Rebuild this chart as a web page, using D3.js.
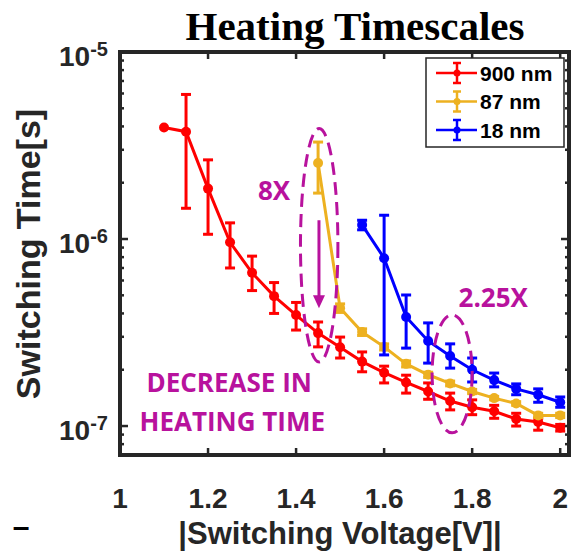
<!DOCTYPE html>
<html>
<head>
<meta charset="utf-8">
<script src="https://cdn.jsdelivr.net/npm/d3@7/dist/d3.min.js"></script>
<style>
  body { margin: 0; background: #fff; }
  svg { display: block; }
</style>
</head>
<body>
<svg id="chart" width="573" height="551"></svg>
<script>
// Heating timescales: switching time vs |switching voltage| for three device sizes

// 900 nm
const redV  = [1.1, 1.15, 1.2, 1.25, 1.3, 1.35, 1.4, 1.45, 1.5, 1.55, 1.6, 1.65, 1.7, 1.75, 1.8, 1.85, 1.9, 1.95, 2.0];
const redT  = [3.95e-6, 3.75e-6, 1.86e-6, 9.6e-7, 6.6e-7, 4.95e-7, 3.92e-7, 3.14e-7, 2.64e-7, 2.21e-7, 1.93e-7, 1.71e-7, 1.53e-7, 1.36e-7, 1.26e-7, 1.2e-7, 1.09e-7, 1.05e-7, 9.8e-8];
const redLo = [3.95e-6, 1.46e-6, 1.06e-6, 7.0e-7, 5.3e-7, 4.0e-7, 3.26e-7, 2.65e-7, 2.31e-7, 1.95e-7, 1.7e-7, 1.5e-7, 1.39e-7, 1.22e-7, 1.15e-7, 1.1e-7, 1.0e-7, 9.5e-8, 9.4e-8];
const redHi = [3.95e-6, 5.93e-6, 2.65e-6, 1.22e-6, 8.1e-7, 5.85e-7, 4.58e-7, 3.6e-7, 2.99e-7, 2.49e-7, 2.09e-7, 1.87e-7, 1.7e-7, 1.5e-7, 1.38e-7, 1.29e-7, 1.17e-7, 1.1e-7, 1.02e-7];

// 87 nm
const yelV  = [1.45, 1.5, 1.55, 1.6, 1.65, 1.7, 1.75, 1.8, 1.85, 1.9, 1.95, 2.0];
const yelT  = [2.55e-6, 4.27e-7, 3.18e-7, 2.65e-7, 2.15e-7, 1.88e-7, 1.69e-7, 1.53e-7, 1.41e-7, 1.32e-7, 1.14e-7, 1.14e-7];
const yelLo = [1.76e-6, 4.05e-7, 3.05e-7, 2.55e-7, 2.07e-7, 1.82e-7, 1.64e-7, 1.49e-7, 1.38e-7, 1.29e-7, 1.11e-7, 1.11e-7];
const yelHi = [3.3e-6, 4.5e-7, 3.31e-7, 2.75e-7, 2.23e-7, 1.94e-7, 1.74e-7, 1.57e-7, 1.44e-7, 1.35e-7, 1.17e-7, 1.17e-7];

// 18 nm
const bluV  = [1.55, 1.6, 1.65, 1.7, 1.75, 1.8, 1.85, 1.9, 1.95, 2.0];
const bluT  = [1.19e-6, 7.9e-7, 3.83e-7, 2.85e-7, 2.37e-7, 2.0e-7, 1.76e-7, 1.58e-7, 1.47e-7, 1.34e-7];
const bluLo = [1.12e-6, 2.4e-7, 2.61e-7, 2.17e-7, 2.04e-7, 1.72e-7, 1.62e-7, 1.47e-7, 1.34e-7, 1.26e-7];
const bluHi = [1.26e-6, 1.34e-6, 5.02e-7, 3.56e-7, 2.75e-7, 2.31e-7, 1.92e-7, 1.68e-7, 1.58e-7, 1.43e-7];

const seriesNames  = ["900 nm", "87 nm", "18 nm"];
const seriesColors = ["#ff0000", "#edb120", "#0000ff"];

const xTicks = [1, 1.2, 1.4, 1.6, 1.8, 2];
const yTicks = [1e-7, 1e-6, 1e-5];
const yTickExp = ["-7", "-6", "-5"];

// annotation anchors, in data units (voltage, seconds)
const notes = [
  { text: "8X", v: 1.35, t: 1.62e-6 },
  { text: "DECREASE IN", v: 1.248, t: 1.52e-7 },
  { text: "HEATING TIME", v: 1.255, t: 9.4e-8 },
  { text: "2.25X", v: 1.848, t: 4.33e-7 }
];
// ellipses: [left V, right V, top t, bottom t]
const rings = [
  [1.41, 1.495, 3.9e-6, 2.2e-7],
  [1.709, 1.80, 3.93e-7, 9.2e-8]
];
const arrow = { v: 1.452, from: 1.26e-6, to: 4.27e-7 };

const svg = d3.select("#chart");
const width = 573, height = 551;
const plot = { left: 120, right: 569, top: 52, bottom: 455 };
const axisColor = "#262626";
const purple = "#b8129d";
const sans = "'Liberation Sans', Arial, sans-serif";

const x = d3.scaleLinear().domain([1, 2.02]).range([plot.left, plot.right]);
const y = d3.scaleLog().domain([7e-8, 1e-5]).range([plot.bottom, plot.top]);

svg.append("rect").attr("width", width).attr("height", height).attr("fill", "#fff");

// title
svg.append("text")
  .attr("x", 355).attr("y", 40)
  .attr("text-anchor", "middle")
  .attr("font-family", "'Liberation Serif', 'Times New Roman', serif")
  .attr("font-weight", "bold")
  .attr("font-size", 41)
  .text("Heating Timescales");

// ---- axes (ticks inward on all four sides) ----
const minor = [];
for (let e = -8; e <= -5; e++) {
  for (let k = 1; k <= 9; k++) {
    const v = k * Math.pow(10, e);
    if (v >= 7e-8 && v <= 1e-5) minor.push(v);
  }
}
const isMajor = v => yTicks.some(t => Math.abs(t - v) / t < 1e-6);

const axG = svg.append("g").attr("stroke", axisColor).attr("stroke-width", 2.5);
xTicks.forEach(t => {
  axG.append("line").attr("x1", x(t)).attr("x2", x(t)).attr("y1", plot.bottom).attr("y2", plot.bottom - 7);
  axG.append("line").attr("x1", x(t)).attr("x2", x(t)).attr("y1", plot.top).attr("y2", plot.top + 7);
});
minor.forEach(v => {
  const len = isMajor(v) ? 8 : 4;
  axG.append("line").attr("x1", plot.left).attr("x2", plot.left + len).attr("y1", y(v)).attr("y2", y(v));
  axG.append("line").attr("x1", plot.right).attr("x2", plot.right - len).attr("y1", y(v)).attr("y2", y(v));
});

// x tick labels
svg.append("g").selectAll("text").data(xTicks).join("text")
  .attr("x", d => x(d)).attr("y", 508)
  .attr("text-anchor", "middle")
  .attr("font-family", sans).attr("font-weight", "bold").attr("font-size", 28)
  .attr("fill", "#262626")
  .text(d => d3.format("~g")(d));

// y tick labels with superscript exponents
const yl = svg.append("g").selectAll("text").data(yTicks).join("text")
  .attr("x", 108).attr("y", d => y(d) + 14)
  .attr("text-anchor", "end")
  .attr("font-family", sans).attr("font-weight", "bold").attr("font-size", 28)
  .attr("fill", "#262626");
yl.append("tspan").text("10");
yl.append("tspan").attr("dy", -10).attr("font-size", 20).text((d, i) => yTickExp[i]);

// axis labels
svg.append("text")
  .attr("transform", "translate(40,254) rotate(-90)")
  .attr("text-anchor", "middle")
  .attr("font-family", sans).attr("font-weight", "bold").attr("font-size", 34)
  .attr("fill", "#262626")
  .text("Switching Time[s]");
svg.append("text")
  .attr("x", 340).attr("y", 544)
  .attr("text-anchor", "middle")
  .attr("font-family", sans).attr("font-weight", "bold").attr("font-size", 31)
  .attr("fill", "#262626")
  .text("|Switching Voltage[V]|");

// stray dash from neighbouring panel
svg.append("text").attr("x", 21).attr("y", 537).attr("text-anchor", "middle")
  .attr("font-family", sans).attr("font-weight", "bold").attr("font-size", 30).text("–");

// ---- series ----
function drawSeries(vs, ts, lo, hi, color) {
  const g = svg.append("g");
  const line = d3.line().x((d, i) => x(vs[i])).y(d => y(d));
  g.append("path").datum(ts).attr("d", line)
    .attr("fill", "none").attr("stroke", color).attr("stroke-width", 3);
  const cap = 5;
  vs.forEach((v, i) => {
    if (hi[i] > lo[i]) {
      const bar = g.append("g").attr("stroke", color).attr("stroke-width", 3);
      bar.append("line").attr("x1", x(v)).attr("x2", x(v)).attr("y1", y(lo[i])).attr("y2", y(hi[i]));
      bar.append("line").attr("x1", x(v) - cap).attr("x2", x(v) + cap).attr("y1", y(lo[i])).attr("y2", y(lo[i]));
      bar.append("line").attr("x1", x(v) - cap).attr("x2", x(v) + cap).attr("y1", y(hi[i])).attr("y2", y(hi[i]));
    }
  });
  g.selectAll("circle").data(ts).join("circle")
    .attr("cx", (d, i) => x(vs[i])).attr("cy", d => y(d)).attr("r", 5)
    .attr("fill", color);
}
drawSeries(redV, redT, redLo, redHi, seriesColors[0]);
drawSeries(yelV, yelT, yelLo, yelHi, seriesColors[1]);
drawSeries(bluV, bluT, bluLo, bluHi, seriesColors[2]);

// ---- annotations ----
const ann = svg.append("g");
rings.forEach(r => {
  const cx = (x(r[0]) + x(r[1])) / 2, cy = (y(r[2]) + y(r[3])) / 2;
  ann.append("ellipse")
    .attr("cx", cx).attr("cy", cy)
    .attr("rx", (x(r[1]) - x(r[0])) / 2).attr("ry", (y(r[3]) - y(r[2])) / 2)
    .attr("fill", "none").attr("stroke", purple).attr("stroke-width", 3)
    .attr("stroke-dasharray", "13 7");
});
const ax = x(arrow.v), ay1 = y(arrow.from), ay2 = y(arrow.to);
ann.append("line").attr("x1", ax).attr("x2", ax).attr("y1", ay1).attr("y2", ay2 - 10)
  .attr("stroke", purple).attr("stroke-width", 3);
ann.append("path")
  .attr("d", `M${ax - 6},${ay2 - 13} L${ax + 6},${ay2 - 13} L${ax},${ay2} Z`)
  .attr("fill", purple);
ann.selectAll("text").data(notes).join("text")
  .attr("x", d => x(d.v)).attr("y", d => y(d.t))
  .attr("text-anchor", "middle")
  .attr("font-family", "'Open Sans', sans-serif").attr("font-weight", "bold")
  .attr("font-size", 26).attr("fill", purple)
  .text(d => d.text);

// frame
svg.append("rect")
  .attr("x", plot.left).attr("y", plot.top)
  .attr("width", plot.right - plot.left).attr("height", plot.bottom - plot.top)
  .attr("fill", "none").attr("stroke", axisColor).attr("stroke-width", 4);

// ---- legend ----
const lg = svg.append("g");
lg.append("rect").attr("x", 426).attr("y", 58).attr("width", 138).attr("height", 89)
  .attr("fill", "#fff").attr("stroke", "#262626").attr("stroke-width", 1.5);
seriesNames.forEach((name, i) => {
  const ly = 73 + i * 28.5, col = seriesColors[i];
  const row = lg.append("g").attr("stroke", col).attr("stroke-width", 2.5);
  row.append("line").attr("x1", 436).attr("x2", 477).attr("y1", ly).attr("y2", ly);
  row.append("line").attr("x1", 457).attr("x2", 457).attr("y1", ly - 10).attr("y2", ly + 10);
  row.append("line").attr("x1", 453).attr("x2", 461).attr("y1", ly - 10).attr("y2", ly - 10);
  row.append("line").attr("x1", 453).attr("x2", 461).attr("y1", ly + 10).attr("y2", ly + 10);
  lg.append("circle").attr("cx", 457).attr("cy", ly).attr("r", 3.5).attr("fill", col);
  lg.append("text").attr("x", 480).attr("y", ly + 7.5)
    .attr("font-family", sans).attr("font-weight", "bold").attr("font-size", 21)
    .text(name);
});
</script>
</body>
</html>
